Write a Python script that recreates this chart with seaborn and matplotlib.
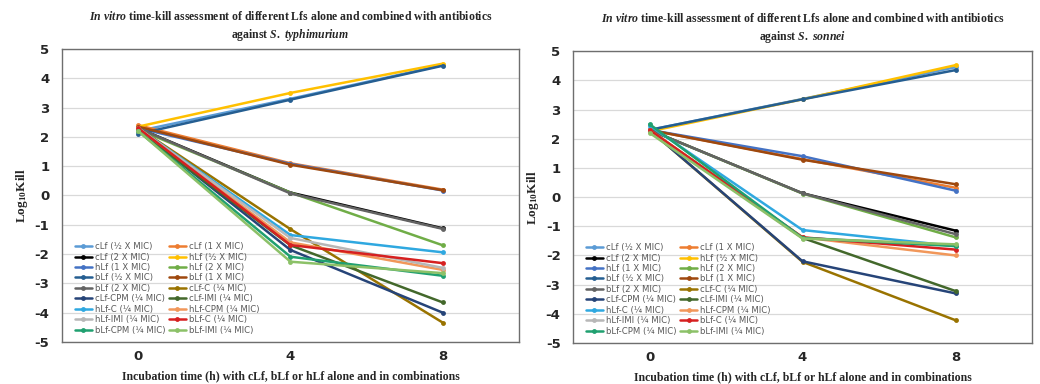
import matplotlib
matplotlib.use("Agg")
import matplotlib.pyplot as plt
import seaborn as sns
import pandas as pd

times = [0, 4, 8]

labels = ["cLf (½ X MIC)", "cLf (1 X MIC)", "cLf (2 X MIC)", "hLf (½ X MIC)",
          "hLf (1 X MIC)", "hLf (2 X MIC)", "bLf (½ X MIC)", "bLf (1 X MIC)",
          "bLf (2 X MIC)", "cLf-C (¼ MIC)", "cLf-CPM (¼ MIC)", "cLf-IMI (¼ MIC)",
          "hLf-C (¼ MIC)", "hLf-CPM (¼ MIC)", "hLf-IMI (¼ MIC)", "bLf-C (¼ MIC)",
          "bLf-CPM (¼ MIC)", "bLf-IMI (¼ MIC)"]

colors = ["#5B9BD5", "#ED7D31", "#000000", "#FFC000", "#4472C4", "#70AD47",
          "#255E91", "#9E480E", "#636363", "#997300", "#264478", "#43682B",
          "#2FA8E0", "#F1975A", "#B7B7B7", "#D62020", "#20A070", "#8CC168"]

# log10 kill at 0, 4, 8 h
typhimurium = [
    [2.20, 3.30, 4.45], [2.40, 1.10, 0.20], [2.30, 0.10, -1.12], [2.35, 3.50, 4.50],
    [2.30, 1.08, 0.17], [2.25, 0.10, -1.70], [2.10, 3.27, 4.43], [2.35, 1.05, 0.18],
    [2.30, 0.07, -1.14], [2.30, -1.15, -4.34], [2.25, -1.86, -4.00], [2.20, -1.70, -3.65],
    [2.30, -1.35, -1.94], [2.30, -1.60, -2.54], [2.30, -1.45, -2.47], [2.30, -1.69, -2.31],
    [2.20, -2.09, -2.74], [2.20, -2.26, -2.65],
]

sonnei = [
    [2.30, 3.36, 4.45], [2.30, 1.30, 0.32], [2.30, 0.13, -1.15], [2.25, 3.35, 4.52],
    [2.30, 1.40, 0.22], [2.30, 0.12, -1.38], [2.30, 3.35, 4.35], [2.30, 1.28, 0.44],
    [2.30, 0.13, -1.27], [2.30, -2.22, -4.22], [2.30, -2.20, -3.30], [2.30, -1.40, -3.22],
    [2.45, -1.13, -1.68], [2.30, -1.38, -2.00], [2.25, -1.40, -1.65], [2.30, -1.38, -1.80],
    [2.50, -1.40, -1.68], [2.20, -1.42, -1.62],
]

sns.set_style("white")
plt.rcParams["mathtext.fontset"] = "custom"
plt.rcParams["mathtext.rm"] = "Liberation Serif:bold"
plt.rcParams["mathtext.it"] = "Liberation Serif:italic:bold"
plt.rcParams["mathtext.bf"] = "Liberation Serif:bold"

serif = "Liberation Serif"
palette = dict(zip(labels, colors))


def to_frame(values):
    rows = []
    for name, vals in zip(labels, values):
        for i, v in enumerate(vals):
            rows.append({"series": name, "pos": i, "kill": v})
    return pd.DataFrame(rows)


def panel(ax, values, title):
    df = to_frame(values)
    sns.lineplot(data=df, x="pos", y="kill", hue="series", hue_order=labels,
                 palette=palette, marker="o", markersize=3.5, markeredgewidth=0,
                 linewidth=1.8, sort=False, ax=ax)
    ax.set_xlim(-0.5, 2.5)
    ax.set_ylim(-5, 5)
    ax.set_xticks(range(len(times)))
    ax.set_xticklabels([str(t) for t in times], fontweight="bold", fontsize=9.5)
    ax.set_yticks(range(-5, 6))
    ax.set_yticklabels([str(t) for t in range(-5, 6)], fontweight="bold", fontsize=9.5)
    ax.tick_params(axis="x", length=0, pad=6)
    ax.tick_params(axis="y", length=0, pad=9)
    ax.yaxis.grid(True, color="#D9D9D9", linewidth=0.9)
    ax.set_axisbelow(True)
    for sp in ax.spines.values():
        sp.set_color("#6E6E6E")
        sp.set_linewidth(1.0)
    ax.set_xlabel("Incubation time (h) with cLf, bLf or hLf alone and in combinations",
                  family=serif, fontweight="bold", fontsize=8.5, labelpad=5)
    ax.set_ylabel(r"Log$_{10}$Kill", family=serif, fontweight="bold",
                  fontsize=9.5, labelpad=3)
    ax.set_title(title, family=serif, fontweight="bold", fontsize=8.5,
                 pad=8, linespacing=1.35)

    # legend row by row, like the spreadsheet
    handles, labs = ax.get_legend_handles_labels()
    order = list(range(0, 18, 2)) + list(range(1, 18, 2))
    ax.legend([handles[i] for i in order], [labs[i] for i in order], ncol=2,
              loc="lower left", bbox_to_anchor=(0.015, 0.005), frameon=False,
              fontsize=6.1, labelcolor="#595959", handlelength=2.0,
              handletextpad=0.35, columnspacing=0.45, labelspacing=0.17,
              borderaxespad=0.3)


fig = plt.figure(figsize=(10.4, 3.84), dpi=100)
ax1 = fig.add_axes([0.0596, 0.1094, 0.4394, 0.763])
ax2 = fig.add_axes([0.551, 0.1068, 0.4413, 0.760])

panel(ax1, typhimurium,
      r"$\mathit{In\ vitro}$ time-kill assessment of different Lfs alone and combined with antibiotics"
      "\n" r"against $\mathit{S.\ typhimurium}$")
panel(ax2, sonnei,
      r"$\mathit{In\ vitro}$ time-kill assessment of different Lfs alone and combined with antibiotics"
      "\n" r"against $\mathit{S.\ sonnei}$")

fig.savefig("out.png", dpi=100)
